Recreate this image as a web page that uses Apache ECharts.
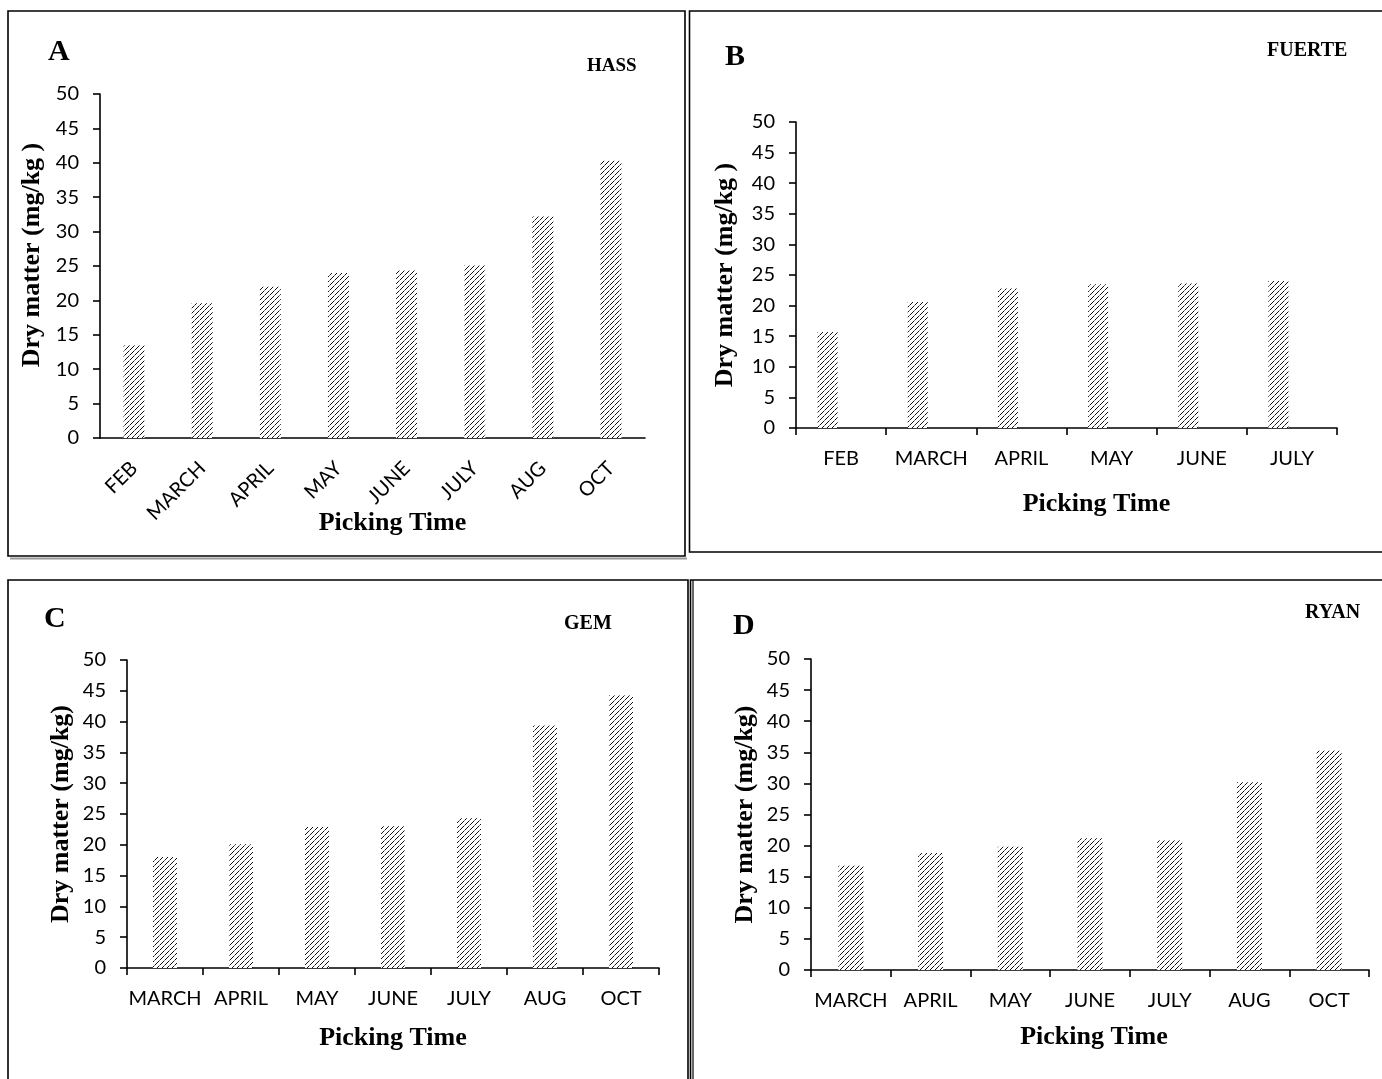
<!DOCTYPE html>
<html>
<head>
<meta charset="utf-8">
<style>
html,body{margin:0;padding:0;background:#fff;}
#chart{width:1382px;height:1079px;}
</style>
<script src="https://cdn.jsdelivr.net/npm/echarts@6/dist/echarts.min.js"></script>
</head>
<body>
<div id="chart"></div>
<script>
// ---- data ----
const hassMonths   = ['FEB','MARCH','APRIL','MAY','JUNE','JULY','AUG','OCT'];
const hassValues   = [13.5, 19.6, 22.0, 24.0, 24.4, 25.1, 32.2, 40.3];
const fuerteMonths = ['FEB','MARCH','APRIL','MAY','JUNE','JULY'];
const fuerteValues = [15.7, 20.6, 22.8, 23.5, 23.6, 24.0];
const gemMonths    = ['MARCH','APRIL','MAY','JUNE','JULY','AUG','OCT'];
const gemValues    = [18.0, 20.1, 22.9, 23.0, 24.3, 39.4, 44.3];
const ryanMonths   = ['MARCH','APRIL','MAY','JUNE','JULY','AUG','OCT'];
const ryanValues   = [16.8, 18.8, 19.8, 21.2, 20.9, 30.2, 35.3];
const yTicks = {min: 0, max: 50, interval: 5};

// hatch pattern (dotted diagonal "/" lines)
const tile = document.createElement('canvas');
tile.width = 5; tile.height = 5;
const cx = tile.getContext('2d');
cx.fillStyle = '#ffffff'; cx.fillRect(0,0,5,5);
cx.fillStyle = '#111111';
[[0,4],[1,3],[2,2],[3,1]].forEach(p => cx.fillRect(p[0], p[1], 1, 1));
cx.fillStyle = '#777777';
cx.fillRect(4,0,1,1);
const hatch = {image: tile, repeat: 'repeat'};

const tickFont = 'Lato, "Liberation Sans", sans-serif';
const serif = '"Liberation Serif", "Times New Roman", serif';

const panels = [
  {cats: hassMonths, vals: hassValues, grid:{left:100, top:94, width:545, height:344}, rotate:45, ticks:false, bw:21,
   yname:'Dry matter (mg/kg )', ynameGap:55, ynamePad:[0,0,0,22], xnameGap:72, xnamePad:[0,0,0,40], empty:false},
  {cats: fuerteMonths, vals: fuerteValues, grid:{left:796, top:122, width:541, height:306}, rotate:0, ticks:true, bw:20,
   yname:'Dry matter (mg/kg )', ynameGap:58, ynamePad:0, xnameGap:63, xnamePad:[0,0,0,60], empty:true},
  {cats: gemMonths, vals: gemValues, grid:{left:127, top:660, width:532, height:308}, rotate:0, ticks:true, bw:24,
   yname:'Dry matter (mg/kg)', ynameGap:53, ynamePad:0, xnameGap:57, xnamePad:0, empty:false},
  {cats: ryanMonths, vals: ryanValues, grid:{left:811, top:659, width:558, height:311}, rotate:0, ticks:true, bw:25,
   yname:'Dry matter (mg/kg)', ynameGap:53, ynamePad:0, xnameGap:54, xnamePad:[0,0,0,8], empty:false}
];

const grids = [], xAxes = [], yAxes = [], series = [];
panels.forEach((p, i) => {
  grids.push(Object.assign({containLabel:false}, p.grid));
  xAxes.push({
    type:'category', gridIndex:i, data:p.cats,
    axisLine:{lineStyle:{color:'#000', width:1.6}},
    axisTick:{show:p.ticks, length:7, lineStyle:{color:'#000', width:1.6}},
    axisLabel:{color:'#000', fontFamily:tickFont, fontSize:20, rotate:p.rotate, margin:p.rotate ? 27 : 21, interval:0},
    name:'Picking Time', nameLocation:'middle', nameGap:p.xnameGap, nameMoveOverlap:false,
    nameTextStyle:{color:'#000', fontFamily:serif, fontWeight:'bold', fontSize:26, padding:p.xnamePad}
  });
  yAxes.push({
    type:'value', gridIndex:i, min:yTicks.min, max:yTicks.max, interval:yTicks.interval,
    axisLine:{show:true, lineStyle:{color:'#000', width:1.6}},
    axisTick:{show:true, length:7, lineStyle:{color:'#000', width:1.6}},
    splitLine:{show:false},
    axisLabel:{color:'#000', fontFamily:tickFont, fontSize:20, margin:21},
    name:p.yname, nameLocation:'middle', nameGap:p.ynameGap, nameRotate:90, nameMoveOverlap:false,
    nameTextStyle:{color:'#000', fontFamily:serif, fontWeight:'bold', fontSize:26, padding:p.ynamePad}
  });
  series.push({
    type:'bar', xAxisIndex:i, yAxisIndex:i, data:p.vals, barWidth:p.bw, barGap:'35%',
    itemStyle:{color:hatch}, silent:true, animation:false
  });
  if (p.empty) {
    // empty companion series (as in the original spreadsheet) that offsets the bars left
    series.push({
      type:'bar', xAxisIndex:i, yAxisIndex:i, data:p.cats.map(() => null), barWidth:p.bw, barGap:'35%',
      silent:true, animation:false
    });
  }
});

const txt = (x, y, s, size) => ({type:'text', left:x, top:y, style:{text:s, fill:'#000', font:'bold '+size+'px '+serif}});
const frame = (x, y, w, h) => ({type:'rect', shape:{x:x, y:y, width:w, height:h}, style:{fill:'none', stroke:'#000', lineWidth:1.6}, silent:true});

const chart = echarts.init(document.getElementById('chart'), null, {renderer:'canvas'});
chart.setOption({
  animation:false,
  backgroundColor:'#fff',
  grid:grids, xAxis:xAxes, yAxis:yAxes, series:series,
  graphic:[
    {type:'line', shape:{x1:10, y1:558.5, x2:687, y2:558.5}, style:{stroke:'#999', lineWidth:2}, silent:true},
    frame(8, 11, 677, 545),
    frame(689.5, 11, 700, 541),
    frame(8, 580, 680, 510),
    frame(690.5, 580, 700, 510),
    {type:'line', shape:{x1:693, y1:580, x2:693, y2:1079}, style:{stroke:'#000', lineWidth:1.2}, silent:true},
    txt(48, 37, 'A', 30), txt(587, 57, 'HASS', 19),
    txt(725, 42, 'B', 30), txt(1267, 41, 'FUERTE', 20),
    txt(44, 604, 'C', 30), txt(564, 614, 'GEM', 20),
    txt(733, 611, 'D', 30), txt(1305, 603, 'RYAN', 20)
  ]
});
</script>
</body>
</html>
